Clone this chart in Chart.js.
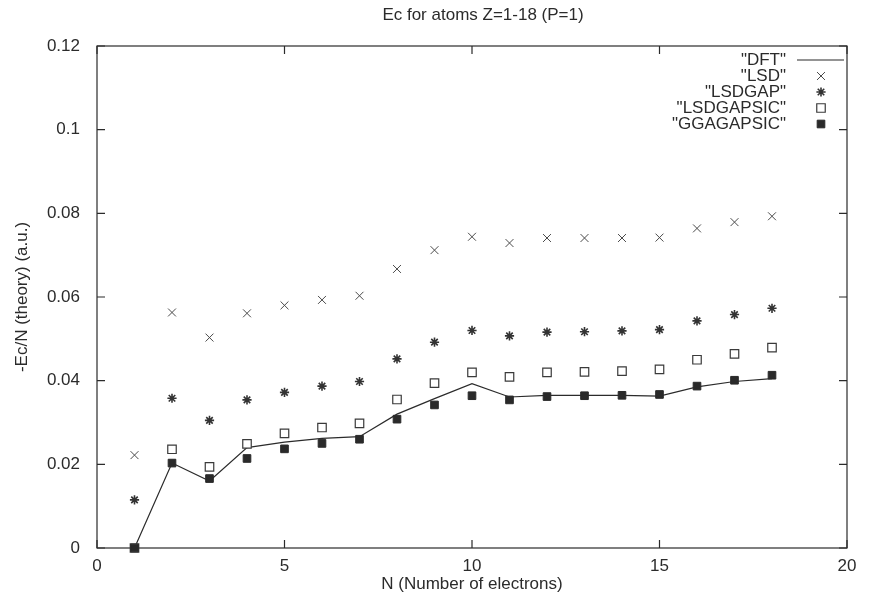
<!DOCTYPE html>
<html>
<head>
<meta charset="utf-8">
<script src="https://cdn.jsdelivr.net/npm/chart.js@4.4.1/dist/chart.umd.min.js"></script>
<style>
  html, body { margin: 0; padding: 0; background: #fff; }
  #wrap { width: 871px; height: 599px; position: relative; }
</style>
</head>
<body>
<div id="wrap"><canvas id="ecChart"></canvas></div>
<script>
// number of electrons Z = 1..18
var electrons = [1, 2, 3, 4, 5, 6, 7, 8, 9, 10, 11, 12, 13, 14, 15, 16, 17, 18];

var dft       = [0, 0.0203, 0.0160, 0.0240, 0.0253, 0.0262, 0.0266, 0.0320, 0.0357, 0.0393, 0.0361, 0.0365, 0.0365, 0.0365, 0.0363, 0.0385, 0.0398, 0.0405];
var lsd       = [0.0222, 0.0563, 0.0503, 0.0561, 0.0580, 0.0593, 0.0603, 0.0667, 0.0712, 0.0744, 0.0729, 0.0741, 0.0741, 0.0741, 0.0742, 0.0764, 0.0779, 0.0793];
var lsdgap    = [0.0115, 0.0358, 0.0305, 0.0354, 0.0372, 0.0387, 0.0398, 0.0452, 0.0492, 0.0520, 0.0507, 0.0516, 0.0517, 0.0519, 0.0522, 0.0543, 0.0558, 0.0573];
var lsdgapsic = [0, 0.0236, 0.0194, 0.0249, 0.0274, 0.0288, 0.0298, 0.0355, 0.0394, 0.0420, 0.0409, 0.0420, 0.0421, 0.0423, 0.0427, 0.0450, 0.0464, 0.0479];
var ggagapsic = [0, 0.0203, 0.0166, 0.0214, 0.0237, 0.0250, 0.0260, 0.0308, 0.0342, 0.0364, 0.0354, 0.0362, 0.0364, 0.0365, 0.0367, 0.0387, 0.0401, 0.0413];

var xTicks = [0, 5, 10, 15, 20];
var xTickLabels = ['0', '5', '10', '15', '20'];
var yTicks = [0, 0.02, 0.04, 0.06, 0.08, 0.1, 0.12];
var yTickLabels = ['0', '0.02', '0.04', '0.06', '0.08', '0.1', '0.12'];

var ink = '#2b2b2b';
var fontFamily = '"Liberation Sans", Arial, sans-serif';
var fontSize = 17;

function pts(values) {
    return electrons.map(function (n, i) { return { x: n, y: values[i] }; });
}

// gnuplot style frame with inward ticks on all sides, title and key
var framePlugin = {
    id: 'frame',
    beforeDatasetsDraw: function (chart) {
        var ctx = chart.ctx, a = chart.chartArea;
        var xs = chart.scales.x, ys = chart.scales.y;
        var len = 8;
        ctx.save();
        ctx.strokeStyle = ink;
        ctx.lineWidth = 1.2;
        ctx.strokeRect(a.left, a.top, a.right - a.left, a.bottom - a.top);
        ctx.beginPath();
        xTicks.forEach(function (v) {
            var px = xs.getPixelForValue(v);
            ctx.moveTo(px, a.bottom); ctx.lineTo(px, a.bottom - len);
            ctx.moveTo(px, a.top); ctx.lineTo(px, a.top + len);
        });
        yTicks.forEach(function (v) {
            var py = ys.getPixelForValue(v);
            ctx.moveTo(a.left, py); ctx.lineTo(a.left + len, py);
            ctx.moveTo(a.right, py); ctx.lineTo(a.right - len, py);
        });
        ctx.stroke();

        ctx.fillStyle = ink;
        ctx.font = fontSize + 'px ' + fontFamily;
        ctx.textAlign = 'center';
        ctx.textBaseline = 'middle';
        ctx.fillText('Ec for atoms Z=1-18 (P=1)', 483, 15);
        ctx.restore();
    },
    afterDatasetsDraw: function (chart) {
        var ctx = chart.ctx;
        var textRight = 786, sampleX = 821, rowY = 60, step = 16;
        ctx.save();
        ctx.font = fontSize + 'px ' + fontFamily;
        ctx.textAlign = 'right';
        ctx.textBaseline = 'middle';
        chart.data.datasets.forEach(function (ds, i) {
            var y = rowY + i * step;
            ctx.fillStyle = ink;
            ctx.fillText('"' + ds.label + '"', textRight, y);
            if (ds.showLine) {
                ctx.strokeStyle = ds.borderColor;
                ctx.lineWidth = ds.borderWidth;
                ctx.beginPath();
                ctx.moveTo(797, y); ctx.lineTo(844, y);
                ctx.stroke();
            } else {
                ctx.strokeStyle = ds.pointBorderColor;
                ctx.fillStyle = ds.pointBackgroundColor;
                ctx.lineWidth = ds.pointBorderWidth;
                Chart.helpers.drawPoint(ctx, {
                    pointStyle: ds.pointStyle,
                    radius: ds.pointRadius,
                    rotation: 0,
                    borderWidth: ds.pointBorderWidth
                }, sampleX, y);
            }
        });
        ctx.restore();
    }
};

var datasets = [
    {
        label: 'DFT', data: pts(dft), showLine: true, pointRadius: 0,
        borderColor: ink, borderWidth: 1.2, order: 5, clip: false
    },
    {
        label: 'LSD', data: pts(lsd), showLine: false, pointStyle: 'crossRot',
        pointRadius: 5.6, pointBorderColor: '#4a4a4a', pointBackgroundColor: '#4a4a4a',
        pointBorderWidth: 1, order: 4, clip: false
    },
    {
        label: 'LSDGAP', data: pts(lsdgap), showLine: false, pointStyle: 'star',
        pointRadius: 4.6, pointBorderColor: '#333', pointBackgroundColor: '#333',
        pointBorderWidth: 1.6, order: 3, clip: false
    },
    {
        label: 'LSDGAPSIC', data: pts(lsdgapsic), showLine: false, pointStyle: 'rect',
        pointRadius: 6, pointBorderColor: '#3a3a3a', pointBackgroundColor: '#fff',
        pointBorderWidth: 1.2, order: 2, clip: false
    },
    {
        label: 'GGAGAPSIC', data: pts(ggagapsic), showLine: false, pointStyle: 'rect',
        pointRadius: 5.4, pointBorderColor: '#2a2a2a', pointBackgroundColor: '#2a2a2a',
        pointBorderWidth: 1, order: 1, clip: false
    }
];

var ctx = document.getElementById('ecChart');
var ecChart = new Chart(ctx, {
    type: 'scatter',
    data: { datasets: datasets },
    plugins: [framePlugin],
    options: {
        responsive: true,
        maintainAspectRatio: false,
        animation: false,
        layout: { padding: { top: 46, right: 24, left: 0, bottom: 0 } },
        plugins: {
            legend: { display: false },
            title: { display: false },
            tooltip: { enabled: false }
        },
        scales: {
            x: {
                type: 'linear', min: 0, max: 20,
                afterFit: function (s) { s.height = 51; },
                afterBuildTicks: function (s) { s.ticks = xTicks.map(function (v) { return { value: v }; }); },
                grid: { display: false, drawTicks: false },
                border: { display: false },
                ticks: {
                    padding: 8, color: ink, maxRotation: 0,
                    font: { family: fontFamily, size: fontSize },
                    callback: function (v) { return xTickLabels[xTicks.indexOf(v)]; }
                },
                title: {
                    display: true, text: 'N (Number of electrons)', color: ink,
                    font: { family: fontFamily, size: fontSize },
                    padding: { top: 0, bottom: 4 }
                }
            },
            y: {
                type: 'linear', min: 0, max: 0.12,
                afterFit: function (s) { s.width = 97; },
                afterBuildTicks: function (s) { s.ticks = yTicks.map(function (v) { return { value: v }; }); },
                grid: { display: false, drawTicks: false },
                border: { display: false },
                ticks: {
                    padding: 17, color: ink,
                    font: { family: fontFamily, size: fontSize },
                    callback: function (v) { return yTickLabels[yTicks.indexOf(v)]; }
                },
                title: {
                    display: true, text: '-Ec/N (theory) (a.u.)', color: ink,
                    font: { family: fontFamily, size: fontSize },
                    padding: { top: 12, bottom: 0 }
                }
            }
        }
    }
});
</script>
</body>
</html>
